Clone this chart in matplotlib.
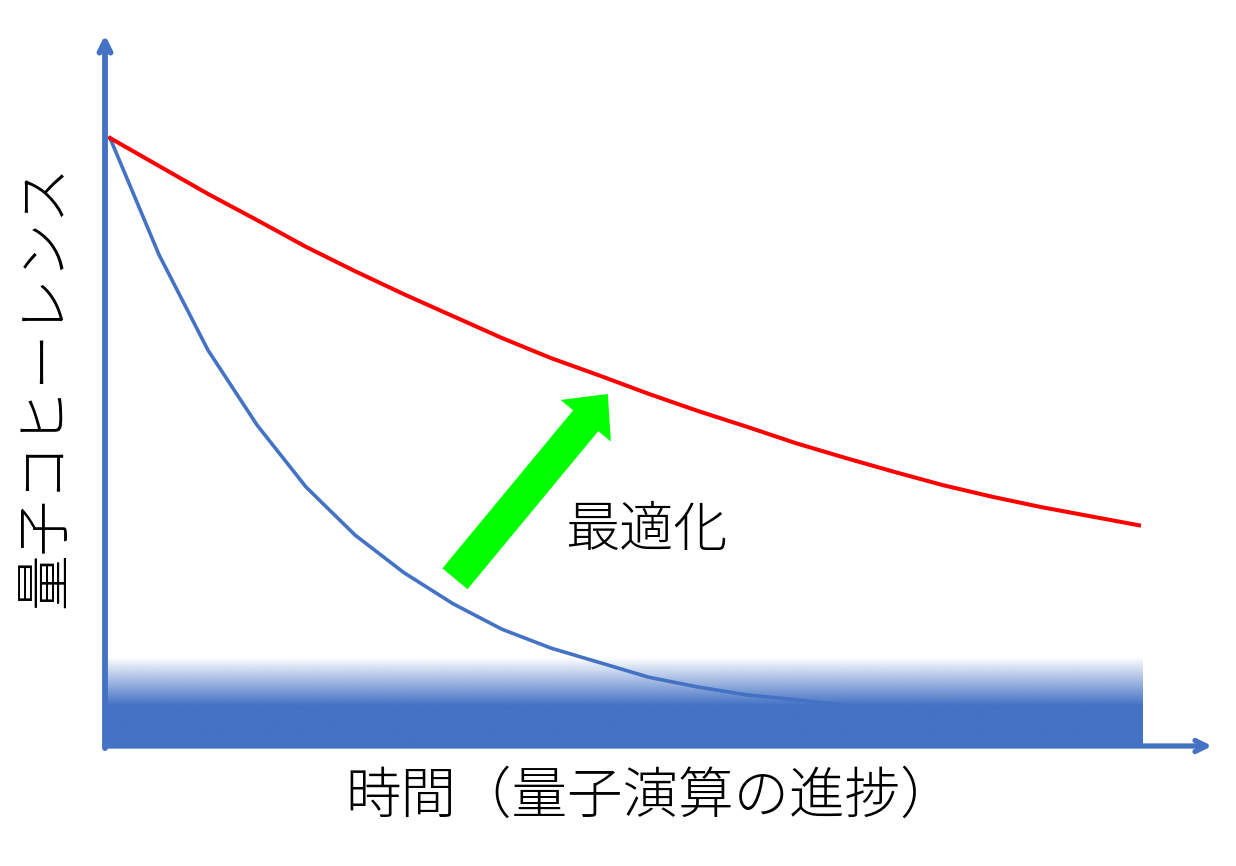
import numpy as np
import matplotlib
matplotlib.use('Agg')
from matplotlib import pyplot as plt
from matplotlib.patches import FancyArrowPatch

plt.rcParams['font.family'] = ['Noto Sans CJK JP', 'DejaVu Sans']

# time steps (quantum operation progress)
steps = list(range(22))

# coherence without optimisation (blue) and with optimisation (red)
coh_plain = [1.000, 0.808, 0.651, 0.528, 0.426, 0.347, 0.285, 0.234, 0.192, 0.161,
             0.137, 0.113, 0.097, 0.084, 0.076, 0.067, 0.062, 0.058, 0.054, 0.051,
             0.049, 0.048]
coh_opt = [1.000, 0.954, 0.908, 0.865, 0.821, 0.781, 0.743, 0.707, 0.671, 0.638,
           0.609, 0.579, 0.551, 0.525, 0.498, 0.474, 0.451, 0.429, 0.410, 0.393,
           0.378, 0.363]

# noise floor band
band_end = 21.08
band_solid = 0.067
band_top = 0.146

# optimisation arrow (tail -> tip)
opt_tail = (7.04, 0.275)
opt_tip = (10.16, 0.579)

xlabel = '時間（量子演算の進捗）'
ylabel = '量子コヒーレンス'
arrow_label = '最適化'

blue = '#4472C4'
W, H = 1236, 866

fig = plt.figure(figsize=(W / 100, H / 100), dpi=100)
ax = fig.add_axes([105 / W, 1 - 746 / H, (1212 - 105) / W, (746 - 35) / H])
ax.set_axis_off()

ax.plot(steps, coh_plain, color=blue, lw=2.6, zorder=2)
ax.plot(steps, coh_opt, color='#FF0000', lw=2.9, zorder=3, solid_joinstyle='round')

# gradient band
yy = np.linspace(0, band_top, 300)
alpha = np.clip((band_top - yy) / (band_top - band_solid), 0, 1)
rgba = np.zeros((len(yy), 1, 4))
rgba[:, 0, :3] = matplotlib.colors.to_rgb(blue)
rgba[:, 0, 3] = alpha
x0 = -5 / 49
ax.imshow(rgba, extent=(x0, band_end, 0, band_top), origin='lower',
          aspect='auto', interpolation='bilinear', zorder=4)

ax.set_xlim(x0, (1212 - 110) / 49)
ax.set_ylim(0, 711 / 608)

# axis arrows
ax.annotate('', xy=(1, 0), xytext=(0, 0), xycoords='axes fraction',
            arrowprops=dict(arrowstyle='->,head_length=0.8,head_width=0.4',
                            color=blue, lw=3.8, shrinkA=0, shrinkB=0), zorder=5)
ax.annotate('', xy=(0, 1), xytext=(0, -0.003), xycoords='axes fraction',
            arrowprops=dict(arrowstyle='->,head_length=0.8,head_width=0.4',
                            color=blue, lw=4.2, shrinkA=0, shrinkB=0), zorder=5)

arr = FancyArrowPatch(opt_tail, opt_tip,
                      arrowstyle='simple,head_length=25,head_width=47,tail_width=23.5',
                      mutation_scale=1, color='#00FF00', lw=0, shrinkA=0, shrinkB=0,
                      zorder=6)
ax.add_patch(arr)

ax.text(10.95, 0.354, arrow_label, fontsize=39, ha='center', va='center',
        fontweight='light', zorder=7)

fig.text(651 / W, 1 - 797 / H, xlabel, fontsize=40, ha='center', va='center',
         fontweight='light')
fig.text(45 / W, 1 - 386 / H, ylabel, fontsize=40, ha='center', va='center',
         rotation=90, fontweight='light')

fig.savefig('out.png', dpi=100, facecolor='white')
